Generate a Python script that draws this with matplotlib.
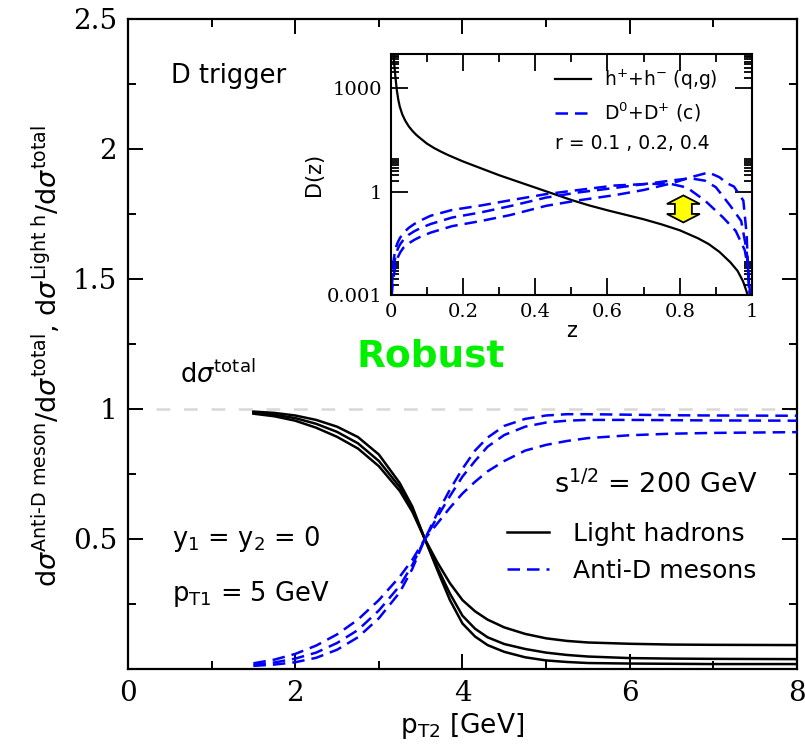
import numpy as np
import matplotlib
matplotlib.use("Agg")
import matplotlib.pyplot as plt
from matplotlib.ticker import FixedLocator, MultipleLocator, NullFormatter
from matplotlib.lines import Line2D
from matplotlib.patches import Polygon
from matplotlib.transforms import ScaledTranslation

plt.rcParams['font.family'] = ['DejaVu Sans']
plt.rcParams['mathtext.fontset'] = 'dejavusans'

# ---------------- main panel data ----------------
pt2 = [1.5, 1.75, 2.0, 2.25, 2.5, 2.75, 3.0, 3.25, 3.4, 3.55, 3.7, 3.85, 4.0,
       4.15, 4.3, 4.5, 4.75, 5.0, 5.25, 5.5, 6.0, 6.5, 7.0, 8.0]
light_a = [0.990, 0.985, 0.975, 0.958, 0.932, 0.892, 0.825, 0.715, 0.625, 0.50, 0.38, 0.265, 0.175,
           0.125, 0.092, 0.066, 0.045, 0.033, 0.027, 0.023, 0.021, 0.020, 0.019, 0.019]
light_b = [0.986, 0.978, 0.965, 0.943, 0.912, 0.868, 0.800, 0.700, 0.615, 0.50, 0.39, 0.29, 0.205,
           0.155, 0.122, 0.096, 0.077, 0.063, 0.054, 0.048, 0.042, 0.040, 0.039, 0.038]
light_c = [0.982, 0.972, 0.955, 0.928, 0.893, 0.848, 0.780, 0.685, 0.605, 0.50, 0.41, 0.33, 0.265,
           0.222, 0.190, 0.160, 0.135, 0.118, 0.108, 0.102, 0.097, 0.094, 0.093, 0.092]
antid_a = [0.012, 0.017, 0.026, 0.043, 0.074, 0.122, 0.195, 0.295, 0.385, 0.50, 0.60, 0.69, 0.77,
           0.84, 0.89, 0.935, 0.962, 0.975, 0.980, 0.980, 0.978, 0.976, 0.975, 0.974]
antid_b = [0.016, 0.025, 0.040, 0.063, 0.100, 0.150, 0.225, 0.32, 0.40, 0.50, 0.585, 0.665, 0.74,
           0.80, 0.855, 0.90, 0.932, 0.948, 0.955, 0.958, 0.958, 0.957, 0.956, 0.955]
antid_c = [0.022, 0.036, 0.058, 0.090, 0.133, 0.190, 0.265, 0.355, 0.42, 0.50, 0.56, 0.62, 0.675,
           0.72, 0.76, 0.80, 0.84, 0.862, 0.877, 0.888, 0.899, 0.905, 0.908, 0.911]
total_level = 1.0
total_line_start = 0.33

x_ticks = [0, 2, 4, 6, 8]
x_ticklabels = ['0', '2', '4', '6', '8']
y_ticks = [0.5, 1.0, 1.5, 2.0, 2.5]
y_ticklabels = ['0.5', '1', '1.5', '2', '2.5']

# ---------------- inset data (log10 D(z)) ----------------
h_z = [0.006, 0.008, 0.010, 0.013, 0.017, 0.021, 0.025, 0.032, 0.04, 0.05, 0.06, 0.07, 0.08,
       0.10, 0.12, 0.14, 0.16, 0.2, 0.25, 0.3, 0.35, 0.4, 0.45, 0.5, 0.55, 0.6, 0.65, 0.7,
       0.75, 0.8, 0.85, 0.88, 0.91, 0.94, 0.96, 0.975, 0.985, 0.992]
h_logD = [4.3, 4.0, 3.7, 3.35, 2.95, 2.68, 2.48, 2.25, 2.07, 1.9, 1.77, 1.66, 1.57,
          1.40, 1.27, 1.16, 1.06, 0.88, 0.68, 0.48, 0.30, 0.12, -0.06, -0.24, -0.40, -0.54,
          -0.67, -0.80, -0.95, -1.12, -1.35, -1.52, -1.75, -2.05, -2.3, -2.6, -2.9, -3.2]
d04_z = [0.001, 0.003, 0.005, 0.008, 0.011, 0.015, 0.02, 0.026, 0.035, 0.05, 0.065, 0.08, 0.11,
         0.17, 0.25, 0.33, 0.43, 0.52, 0.62, 0.7, 0.77, 0.82, 0.87, 0.92, 0.955, 0.98, 0.99,
         0.996]
d04_logD = [-3.3, -2.6, -2.3, -2.0, -1.8, -1.6, -1.46, -1.34, -1.2, -1.05, -0.94, -0.85, -0.70,
            -0.53, -0.40, -0.25, -0.07, 0.05, 0.18, 0.22, 0.24, 0.12, -0.26, -0.75, -1.14, -1.7,
            -2.3, -3.2]
d02_z = [0.001, 0.003, 0.005, 0.008, 0.011, 0.015, 0.02, 0.026, 0.035, 0.05, 0.065, 0.08, 0.11,
         0.17, 0.25, 0.33, 0.43, 0.52, 0.62, 0.7, 0.78, 0.83, 0.87, 0.9, 0.94, 0.97, 0.985,
         0.995]
d02_logD = [-3.4, -2.8, -2.5, -2.2, -2.0, -1.8, -1.65, -1.53, -1.4, -1.25, -1.15, -1.07, -0.94,
            -0.75, -0.60, -0.42, -0.17, -0.02, 0.11, 0.22, 0.33, 0.39, 0.32, 0.13, -0.41, -0.85,
            -1.7, -3.2]
d01_z = [0.001, 0.003, 0.005, 0.008, 0.011, 0.015, 0.02, 0.026, 0.035, 0.05, 0.065, 0.08, 0.11,
         0.17, 0.25, 0.33, 0.43, 0.52, 0.62, 0.7, 0.78, 0.83, 0.88, 0.91, 0.93, 0.95, 0.976,
         0.985, 0.993]
d01_logD = [-3.6, -3.0, -2.75, -2.5, -2.27, -2.05, -1.9, -1.77, -1.63, -1.5, -1.4, -1.32, -1.19,
            -1.0, -0.85, -0.68, -0.41, -0.25, -0.10, 0.05, 0.25, 0.42, 0.56, 0.42, 0.25, 0.15,
            -0.26, -1.23, -3.2]

in_x_ticks = [0, 0.2, 0.4, 0.6, 0.8, 1.0]
in_x_ticklabels = ['0', '0.2', '0.4', '0.6', '0.8', '1']
in_y_ticks = [1e-3, 1, 1e3]
in_y_ticklabels = ['0.001', '1', '1000']

# yellow double arrow marker (centre in data units of the inset)
arrow_z = 0.81
arrow_logD = -0.5

BLUE = '#0000ff'
dash = (0, (5.0, 2.8))

fig = plt.figure(figsize=(8.05, 7.44), dpi=100)

# ================= main axes =================
ax = fig.add_axes([0.159, 0.1008, 0.831, 0.8737])
ax.set_xlim(0, 8)
ax.set_ylim(0, 2.5)

ax.hlines(total_level, total_line_start, 8, color='#d8d8d8', lw=1.8,
          linestyles=[(0, (5.5, 5.5))], zorder=1)

for yv in (light_a, light_b, light_c):
    ax.plot(pt2, yv, color='black', lw=1.8, zorder=3)
for yv in (antid_a, antid_b, antid_c):
    ax.plot(pt2, yv, color=BLUE, lw=1.8, ls=dash, zorder=3)

ax.xaxis.set_major_locator(FixedLocator(x_ticks))
ax.set_xticklabels(x_ticklabels)
ax.xaxis.set_minor_locator(MultipleLocator(1))
ax.yaxis.set_major_locator(FixedLocator(y_ticks))
ax.set_yticklabels(y_ticklabels)
ax.yaxis.set_minor_locator(MultipleLocator(0.25))
ax.tick_params(which='both', direction='in', top=True, right=True, width=1.4)
ax.tick_params(which='major', length=11, labelsize=20, pad=8)
ax.tick_params(which='minor', length=5.5)
for lab in ax.get_xticklabels() + ax.get_yticklabels():
    lab.set_family('DejaVu Serif')
for s in ax.spines.values():
    s.set_linewidth(1.6)

ax.set_xlabel(r'p$_{\mathrm{T2}}$ [GeV]', fontsize=19, labelpad=3)
fig.text(0.058, 0.522,
         r'd$\sigma^{\mathrm{Anti\text{-}D\ meson}}$/d$\sigma^{\mathrm{total}}$, '
         r'd$\sigma^{\mathrm{Light\ h}}$/d$\sigma^{\mathrm{total}}$',
         rotation=90, fontsize=19.5, ha='center', va='center')

ax.text(0.52, 2.28, 'D trigger', fontsize=18.5, ha='left', va='center')
ax.text(0.62, 1.10, r'd$\sigma^{\mathrm{total}}$', fontsize=18.5, ha='left', va='baseline')
ax.text(3.62, 1.20, 'Robust', fontsize=27, fontweight='bold', color='#00f000',
        ha='center', va='center')
ax.text(5.1, 0.675, r's$^{1/2}$ = 200 GeV', fontsize=19.5, ha='left', va='baseline')
ax.text(0.53, 0.50, r'y$_1$ = y$_2$ = 0', fontsize=18.5, ha='left', va='center')
ax.text(0.53, 0.29, r'p$_{\mathrm{T1}}$ = 5 GeV', fontsize=18.5, ha='left', va='center')

handles = [Line2D([], [], color='black', lw=1.8),
           Line2D([], [], color=BLUE, lw=1.8, ls=dash)]
leg = ax.legend(handles, ['Light hadrons', 'Anti-D mesons'], loc='upper left',
                bbox_to_anchor=(4.53, 0.565), bbox_transform=ax.transData,
                frameon=False, fontsize=18, handlelength=1.7, handletextpad=0.95,
                labelspacing=0.5, borderpad=0, borderaxespad=0)

# ================= inset axes =================
axin = fig.add_axes([0.4853, 0.6035, 0.4489, 0.3239])
axin.set_yscale('log')
axin.set_xlim(0, 1)
axin.set_ylim(1e-3, 1e4)

axin.plot(h_z, 10 ** np.asarray(h_logD), color='black', lw=1.6)
for zz, ll in ((d04_z, d04_logD), (d02_z, d02_logD), (d01_z, d01_logD)):
    axin.plot(zz, 10 ** np.asarray(ll), color=BLUE, lw=1.8, ls=dash)

axin.xaxis.set_major_locator(FixedLocator(in_x_ticks))
axin.set_xticklabels(in_x_ticklabels)
axin.xaxis.set_minor_locator(MultipleLocator(0.1))
axin.yaxis.set_major_locator(FixedLocator(in_y_ticks))
axin.set_yticklabels(in_y_ticklabels)
minor_y = [k * m for m in (1e-3, 1, 1e3) for k in range(2, 10)]
axin.yaxis.set_minor_locator(FixedLocator(minor_y))
axin.yaxis.set_minor_formatter(NullFormatter())
axin.tick_params(which='both', direction='in', top=True, right=True, width=1.3)
axin.tick_params(which='major', length=12, labelsize=14, pad=6)
axin.tick_params(which='minor', length=6)
for lab in axin.get_xticklabels() + axin.get_yticklabels():
    lab.set_family('DejaVu Serif')
for s in axin.spines.values():
    s.set_linewidth(1.5)

axin.set_xlabel('z', fontsize=15, labelpad=0)
axin.set_ylabel('D(z)', fontsize=15, labelpad=2)

ih = [Line2D([], [], color='black', lw=1.6),
      Line2D([], [], color=BLUE, lw=1.8, ls=dash)]
axin.legend(ih, [r'h$^{+}$+h$^{-}$ (q,g)', r'D$^{0}$+D$^{+}$ (c)'], loc='upper left',
            bbox_to_anchor=(0.455, 10 ** 3.6), bbox_transform=axin.transData,
            frameon=False, fontsize=13.5, handlelength=1.9, handletextpad=0.7,
            labelspacing=0.45, borderpad=0, borderaxespad=0)
axin.text(0.455, 10 ** 1.4, 'r = 0.1 , 0.2, 0.4', fontsize=13.5, ha='left', va='center')

# fat double-headed arrow: shape in inches, anchored at a data point of the inset
L, HW, SW, HL = 0.135, 0.165, 0.085, 0.085   # half-length, half head width, half shaft, head length
shape = [(0, L), (HW, L - HL), (SW, L - HL), (SW, -L + HL), (HW, -L + HL), (0, -L),
         (-HW, -L + HL), (-SW, -L + HL), (-SW, L - HL), (-HW, L - HL)]
shape = [(sx * 1.0, sy * 1.0) for sx, sy in shape]
tr = fig.dpi_scale_trans + ScaledTranslation(arrow_z, 10 ** arrow_logD, axin.transData)
axin.add_patch(Polygon(shape, closed=True, transform=tr, fc='yellow', ec='black',
                       lw=1.3, zorder=5))

fig.savefig('out.png', dpi=100)
